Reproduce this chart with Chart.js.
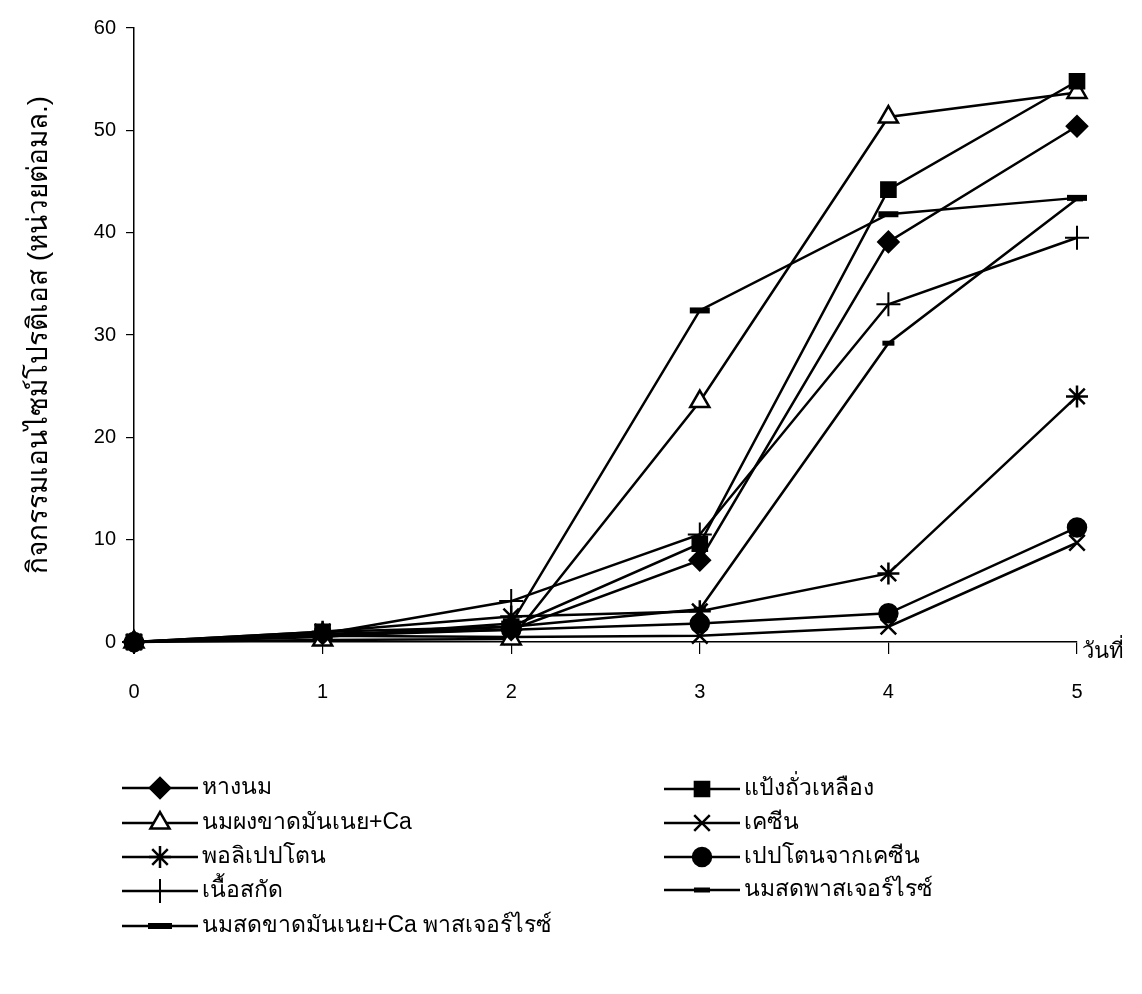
<!DOCTYPE html>
<html>
<head>
<meta charset="utf-8">
<script src="https://cdn.jsdelivr.net/npm/chart.js@4.4.1/dist/chart.umd.min.js"></script>
<style>
  html, body { margin: 0; padding: 0; background: #fff; }
  canvas { display: block; }
</style>
</head>
<body>
<canvas id="chart" width="1142" height="994"></canvas>
<script>
/* --------------------------
   DATA
-------------------------- */
const days = [0, 1, 2, 3, 4, 5];
const yTicks = [0, 10, 20, 30, 40, 50, 60];

const seriesNames = [
    "หางนม",
    "แป้งถั่วเหลือง",
    "นมผงขาดมันเนย+Ca",
    "เคซีน",
    "พอลิเปปโตน",
    "เปปโตนจากเคซีน",
    "เนื้อสกัด",
    "นมสดพาสเจอร์ไรซ์",
    "นมสดขาดมันเนย+Ca พาสเจอร์ไรซ์"
];

const hangNom       = [0, 0.8, 1.2, 8.0, 39.1, 50.4];
const soyFlour      = [0, 1.0, 1.5, 9.6, 44.2, 54.8];
const skimPowderCa  = [0, 0.2, 0.3, 23.5, 51.3, 53.7];
const casein        = [0, 0.6, 0.5, 0.6, 1.5, 9.7];
const polypeptone   = [0, 1.0, 2.5, 3.0, 6.7, 24.0];
const caseinPeptone = [0, 0.6, 1.2, 1.8, 2.8, 11.2];
const meatExtract   = [0, 0.8, 4.0, 10.5, 33.0, 39.5];
const pastMilk      = [0, 0.6, 1.5, 3.2, 29.2, 43.3];
const skimCaPast    = [0, 0.5, 1.8, 32.4, 41.8, 43.4];

const yTitle = "กิจกรรมเอนไซม์โปรติเอส (หน่วยต่อมล.)";
const xTitle = "วันที่";

/* --------------------------
   STYLES
-------------------------- */
const FONT = "'Liberation Sans', Arial, sans-serif";

function series(name, values, style) {
    return Object.assign({
        label: name,
        data: days.map((d, i) => ({ x: d, y: values[i] })),
        borderColor: "#000",
        borderWidth: 2.5,
        pointBorderColor: "#000",
        pointBackgroundColor: "#000",
        pointBorderWidth: 2.5,
        pointRadius: 9,
        clip: false,
        tension: 0
    }, style);
}

const datasets = [
    series(seriesNames[0], hangNom, { pointStyle: "rectRot", pointRadius: 10 }),
    series(seriesNames[1], soyFlour, { pointStyle: "rect", pointRadius: 10 }),
    series(seriesNames[2], skimPowderCa, { pointStyle: "triangle", pointRadius: 11, pointBackgroundColor: "#fff" }),
    series(seriesNames[3], casein, { pointStyle: "crossRot", pointRadius: 11 }),
    series(seriesNames[4], polypeptone, { pointStyle: "star", pointRadius: 11 }),
    series(seriesNames[5], caseinPeptone, { pointStyle: "circle", pointRadius: 9 }),
    series(seriesNames[6], meatExtract, { pointStyle: "cross", pointRadius: 12, pointBorderWidth: 2 }),
    series(seriesNames[7], pastMilk, { pointStyle: "line", pointRadius: 6, pointBorderWidth: 5 }),
    series(seriesNames[8], skimCaPast, { pointStyle: "line", pointRadius: 10, pointBorderWidth: 6 })
];

/* --------------------------
   LEGEND (two columns)
-------------------------- */
const legendSlots = [
    { x: 160, y: 788 }, { x: 702, y: 789 },
    { x: 160, y: 823 }, { x: 702, y: 823 },
    { x: 160, y: 857 }, { x: 702, y: 857 },
    { x: 160, y: 891 }, { x: 702, y: 890 },
    { x: 160, y: 926 }
];

const legendPlugin = {
    id: "twoColLegend",
    afterDraw(chart) {
        const ctx = chart.ctx;
        ctx.save();
        chart.data.datasets.forEach((ds, i) => {
            const s = legendSlots[i];
            ctx.strokeStyle = "#000";
            ctx.lineWidth = 2.5;
            ctx.beginPath();
            ctx.moveTo(s.x - 38, s.y);
            ctx.lineTo(s.x + 38, s.y);
            ctx.stroke();

            ctx.fillStyle = ds.pointBackgroundColor;
            ctx.strokeStyle = "#000";
            ctx.lineWidth = ds.pointBorderWidth;
            Chart.helpers.drawPoint(ctx, {
                pointStyle: ds.pointStyle,
                radius: ds.pointStyle === "line" ? ds.pointRadius + 2 : ds.pointRadius,
                rotation: 0,
                borderWidth: ds.pointBorderWidth
            }, s.x, s.y);

            ctx.fillStyle = "#000";
            ctx.font = "23px " + FONT;
            ctx.textAlign = "left";
            ctx.textBaseline = "middle";
            ctx.fillText(ds.label, s.x + 42, s.y);
        });

        // x axis label at the right end of the axis
        const area = chart.chartArea;
        ctx.font = "22px " + FONT;
        ctx.textAlign = "left";
        ctx.textBaseline = "middle";
        ctx.fillText(xTitle, area.right + 5, area.bottom + 10);
        ctx.restore();
    }
};

/* --------------------------
   CHART
-------------------------- */
new Chart(document.getElementById("chart"), {
    type: "line",
    data: { datasets },
    options: {
        responsive: false,
        animation: false,
        layout: { padding: { left: 14, right: 65, top: 28, bottom: 292 } },
        plugins: {
            legend: { display: false },
            tooltip: { enabled: false }
        },
        scales: {
            x: {
                type: "linear",
                min: 0,
                max: 5,
                afterFit(scale) { scale.height = 60; },
                afterBuildTicks(scale) { scale.ticks = days.map(v => ({ value: v })); },
                grid: { drawOnChartArea: false, drawTicks: true, tickLength: 12, color: "#000", lineWidth: 1.2 },
                border: { color: "#000", width: 1.5 },
                ticks: { color: "#000", padding: 26, font: { family: FONT, size: 20 } }
            },
            y: {
                min: 0,
                max: 60,
                afterFit(scale) { scale.width = 120; },
                afterBuildTicks(scale) { scale.ticks = yTicks.map(v => ({ value: v })); },
                grid: { drawOnChartArea: false, drawTicks: true, tickLength: 8, color: "#000", lineWidth: 1.2 },
                border: { color: "#000", width: 1.5 },
                ticks: { color: "#000", padding: 10, font: { family: FONT, size: 20 } },
                title: {
                    display: true,
                    text: yTitle,
                    color: "#000",
                    padding: { top: 8, bottom: 0 },
                    font: { family: FONT, size: 28 }
                }
            }
        }
    },
    plugins: [legendPlugin]
});
</script>
</body>
</html>
